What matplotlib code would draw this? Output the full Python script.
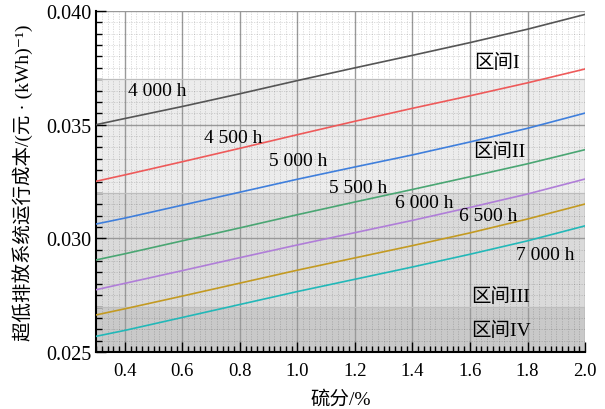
import numpy as np
import matplotlib
matplotlib.use("Agg")
import matplotlib.pyplot as plt
from matplotlib.ticker import MultipleLocator

plt.rcParams['font.family'] = ['Liberation Serif', 'Noto Sans CJK SC', 'DejaVu Serif', 'DejaVu Sans']

# sulfur content (%)
sulfur = [0.3, 0.4, 0.6, 0.8, 1.0, 1.2, 1.4, 1.6, 1.8, 2.0]

# cost curves for each utilisation hours
hours = ['4 000 h', '4 500 h', '5 000 h', '5 500 h', '6 000 h', '6 500 h', '7 000 h']
cost_4000 = [0.03500, 0.03527, 0.03580, 0.03636, 0.03694, 0.03750, 0.03805, 0.03861, 0.03920, 0.03985]
cost_4500 = [0.03251, 0.03279, 0.03337, 0.03396, 0.03456, 0.03515, 0.03572, 0.03627, 0.03684, 0.03745]
cost_5000 = [0.03063, 0.03089, 0.03146, 0.03203, 0.03260, 0.03314, 0.03367, 0.03424, 0.03484, 0.03551]
cost_5500 = [0.02905, 0.02932, 0.02989, 0.03046, 0.03104, 0.03160, 0.03215, 0.03271, 0.03328, 0.03390]
cost_6000 = [0.02774, 0.02802, 0.02858, 0.02915, 0.02971, 0.03025, 0.03079, 0.03136, 0.03195, 0.03261]
cost_6500 = [0.02663, 0.02690, 0.02746, 0.02803, 0.02860, 0.02914, 0.02968, 0.03024, 0.03085, 0.03151]
cost_7000 = [0.02569, 0.02595, 0.02652, 0.02709, 0.02766, 0.02820, 0.02874, 0.02930, 0.02989, 0.03055]
curves = [cost_4000, cost_4500, cost_5000, cost_5500, cost_6000, cost_6500, cost_7000]
colors = ['#555555', '#ee5a5a', '#3f7fdc', '#4aa673', '#b07ed8', '#c39a22', '#22b8b8']

# label anchor (left, centre) in data coords
label_x = [0.41, 0.675, 0.90, 1.11, 1.34, 1.562, 1.76]
label_y = [0.03649, 0.03444, 0.03341, 0.03224, 0.03158, 0.03100, 0.02931]

# cost bands
bands = [0.025, 0.027, 0.032, 0.037, 0.040]
band_colors = ['#c9c9c9', '#dadada', '#ececec', '#ffffff']
band_names = ['区间IV', '区间III', '区间II', '区间I']
band_label_x = [1.604, 1.604, 1.612, 1.614]
band_label_y = [0.02597, 0.02747, 0.03383, 0.03774]

fig = plt.figure(figsize=(6.05, 4.10), dpi=100)
ax = fig.add_axes([0.1587, 0.139, 0.8083, 0.8317])

for i in range(len(band_colors)):
    ax.axhspan(bands[i], bands[i + 1], color=band_colors[i], zorder=0, lw=0)
for b in bands[1:-1]:
    ax.axhline(b, color='#bdbdbd', lw=0.9, zorder=1)

ax.set_xlim(0.3, 2.0)
ax.set_ylim(0.025, 0.040)
ax.xaxis.set_major_locator(MultipleLocator(0.2))
ax.xaxis.set_minor_locator(MultipleLocator(0.02))
ax.yaxis.set_major_locator(MultipleLocator(0.005))
ax.yaxis.set_minor_locator(MultipleLocator(0.0005))

ax.grid(which='major', color='#999999', lw=1.0, zorder=1)
ax.grid(which='minor', color='black', alpha=0.16, lw=0.6, ls=(0, (1.5, 1.5)), zorder=1)
ax.set_axisbelow(True)

for c, col in zip(curves, colors):
    ax.plot(sulfur, c, color=col, lw=1.2, zorder=3)

for name, lx, ly in zip(hours, label_x, label_y):
    ax.text(lx, ly, name, fontsize=14, ha='left', va='center', zorder=4)
for name, lx, ly in zip(band_names, band_label_x, band_label_y):
    ax.text(lx, ly, name, fontsize=14, ha='left', va='center', zorder=4)

ax.spines['top'].set_visible(False)
ax.spines['right'].set_visible(False)
ax.spines['left'].set_linewidth(1.5)
ax.spines['bottom'].set_linewidth(1.5)
ax.tick_params(which='both', direction='in', width=1.0)
ax.tick_params(which='major', length=7)
ax.tick_params(which='minor', length=4)
ax.tick_params(axis='y', labelsize=14.5)
ax.tick_params(axis='x', labelsize=13.5, pad=7)
ax.set_yticks([0.025, 0.030, 0.035, 0.040])
ax.set_yticklabels(['0.025', '0.030', '0.035', '0.040'])

ax.set_xlabel('硫分/%', fontsize=14, labelpad=8)
ax.set_ylabel('超低排放系统运行成本/(元 · (kWh)⁻¹)', fontsize=14, labelpad=9)

fig.savefig('out.png', dpi=100)
